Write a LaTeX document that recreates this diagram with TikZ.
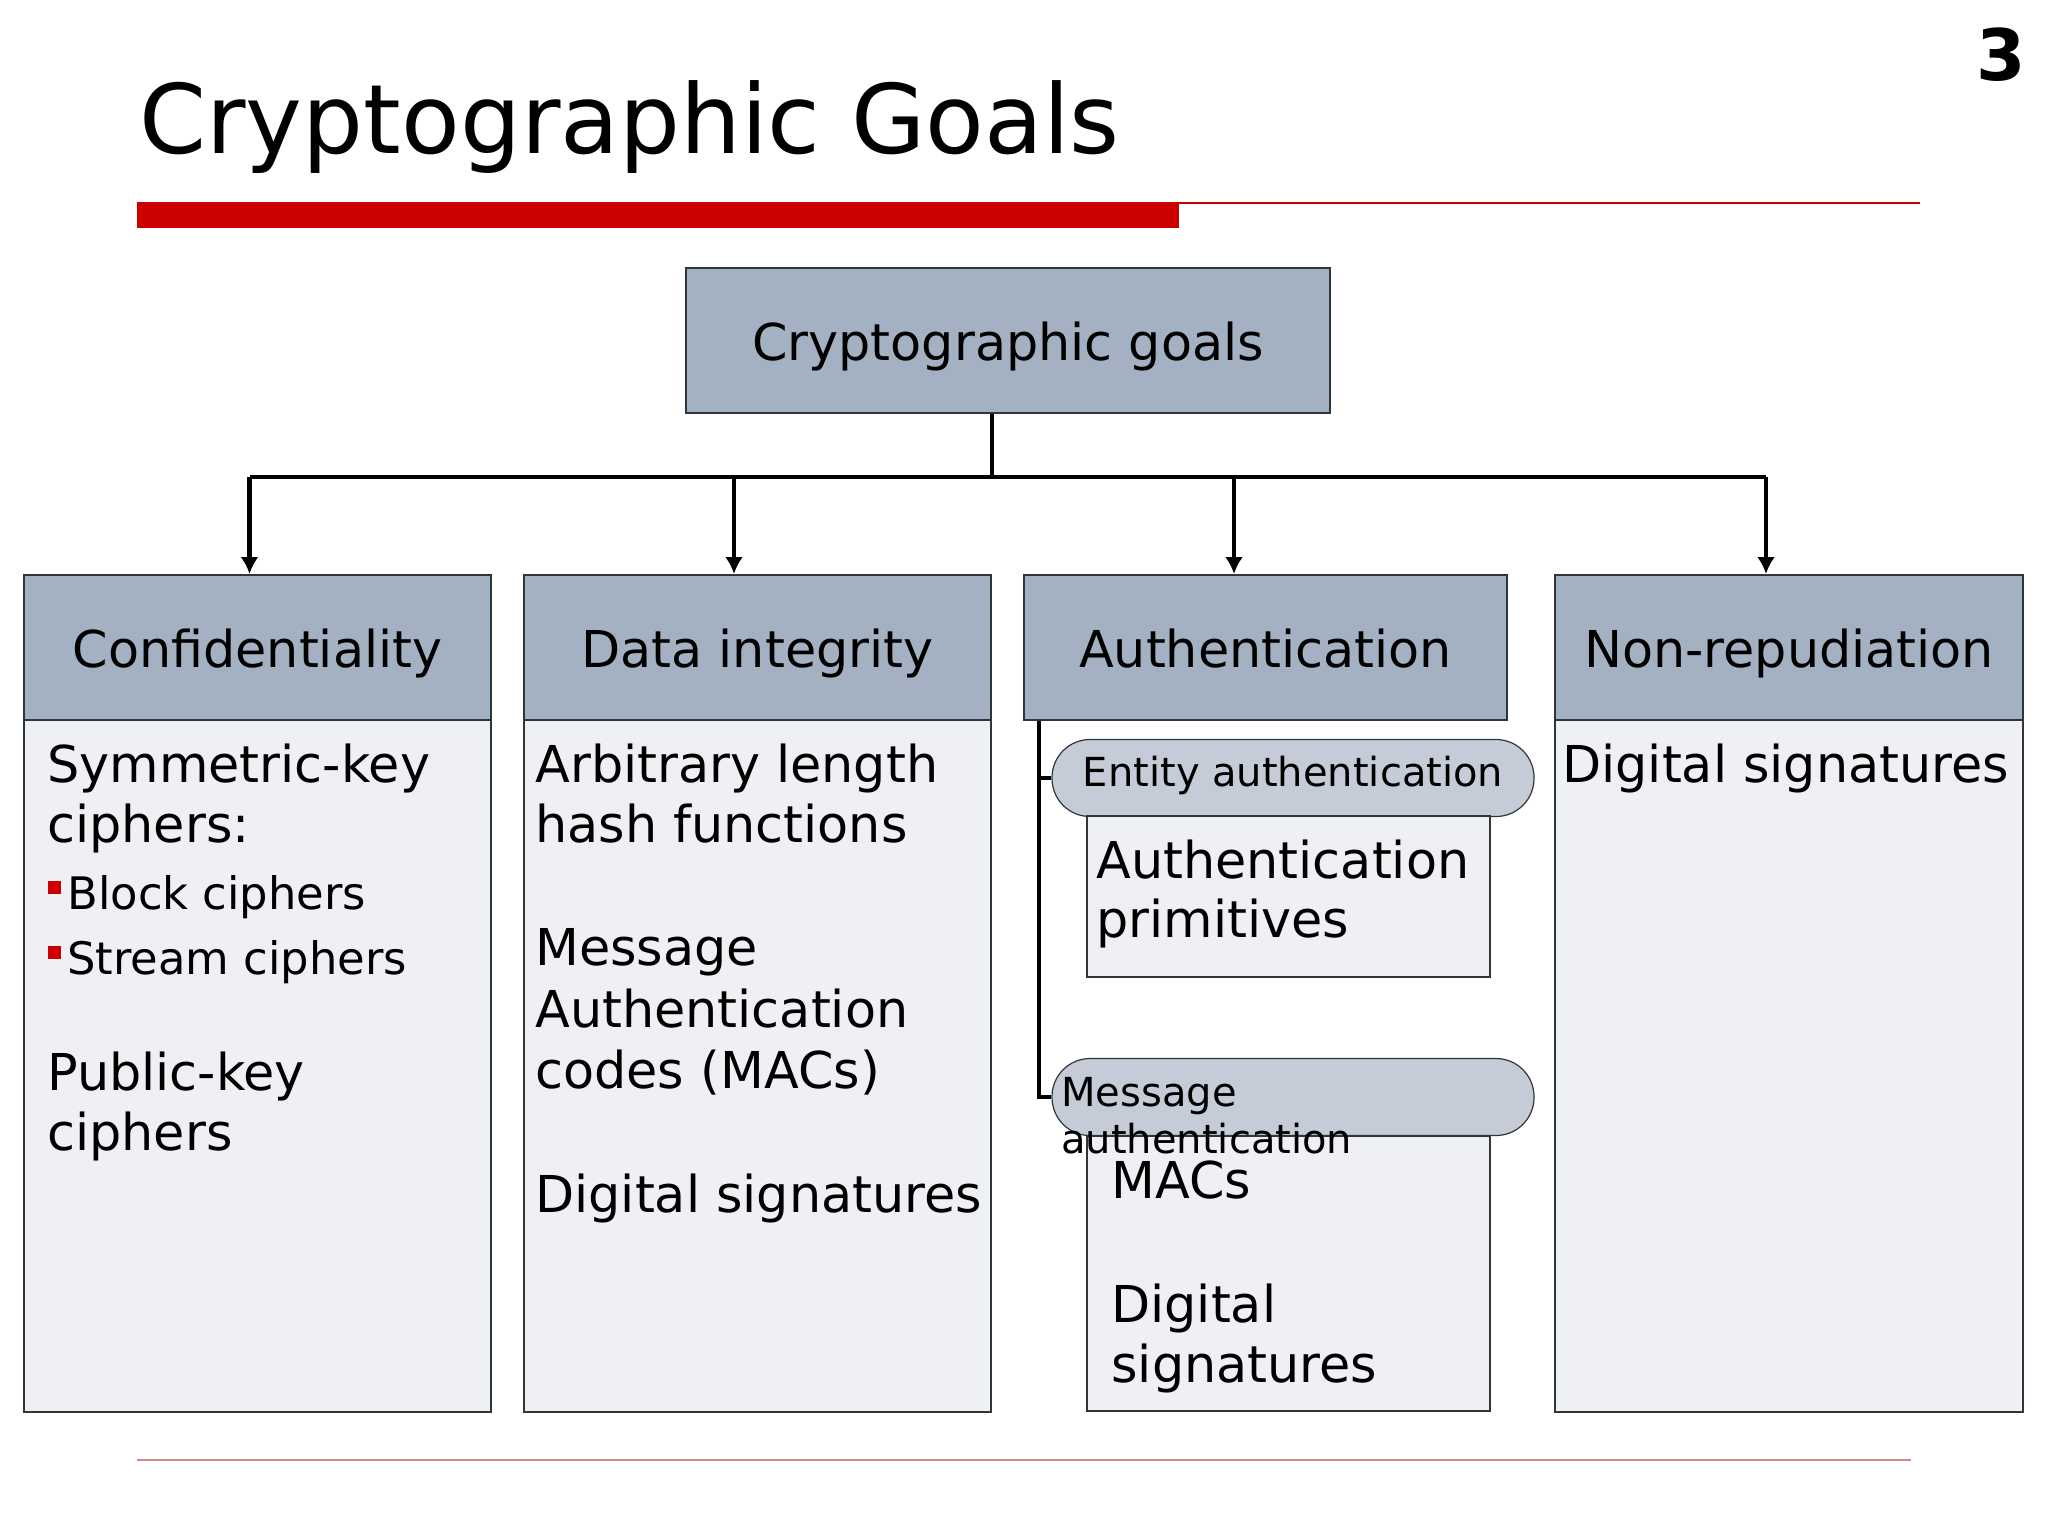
\documentclass[tikz,border=0pt]{standalone}
\usepackage{fontspec}
\setmainfont{DejaVu Sans}
\usetikzlibrary{arrows.meta}

\definecolor{hdrfill}{HTML}{A3B1C2}
\definecolor{bodyfill}{HTML}{EEF0F3}
\definecolor{pillfill}{HTML}{C5CCD8}
\definecolor{boxline}{HTML}{2E363B}
\definecolor{slidered}{HTML}{CC0000}
\definecolor{footred}{HTML}{D8868C}

\newcommand{\redsq}{\textcolor{slidered}{\rule[7.5pt]{6.5pt}{6.5pt}}\hspace{3pt}}

\tikzset{
  box/.style={draw=boxline, line width=1pt, inner sep=0pt},
  head/.style={box, fill=hdrfill, minimum height=72.5pt, text height=22pt, text depth=2pt,
    font=\fontsize{25.4pt}{30.5pt}\selectfont},
  body/.style={box, fill=bodyfill},
  pill/.style={draw=boxline, line width=0.6pt, fill=pillfill, rounded corners=19pt,
    minimum width=241pt, minimum height=38.5pt, inner sep=0pt, text height=15pt, text depth=6.4pt,
    font=\fontsize{20pt}{24pt}\selectfont},
  txt/.style={anchor=base west, inner sep=0pt, font=\fontsize{25.4pt}{30.5pt}\selectfont},
  smalltxt/.style={txt, font=\fontsize{22.4pt}{27pt}\selectfont},
  pilltxt/.style={txt, font=\fontsize{20pt}{24pt}\selectfont},
  arr/.style={line width=2.2pt, -{Latex[length=8.5pt,width=9pt]}},
  trunk/.style={line width=2.4pt},
}

\begin{document}
\begin{tikzpicture}[x=0.5pt, y=-0.5pt]
\useasboundingbox (0,0) rectangle (2048,1536);

% title and rules
\node[anchor=base west, inner sep=0pt, font=\fontsize{48pt}{56pt}\selectfont] (title) at (139,153) {Cryptographic Goals};
\node[anchor=base east, inner sep=0pt, font=\fontsize{35.5pt}{40pt}\selectfont\bfseries] (pageno) at (2026,81) {3};
\fill[slidered] (137,202) rectangle (1179,228);
\draw[slidered, line width=1pt] (137,203) -- (1920,203);
\draw[footred, line width=1pt] (137,1460) -- (1911,1460);

% top box
\node[head, minimum width=322pt] (goal) at (1008,340.5) {Cryptographic goals};

% columns
\node[body, minimum width=233.5pt, minimum height=346pt] (confb) at (257.5,1066) {};
\node[body, minimum width=233.5pt, minimum height=346pt] (integb) at (757.5,1066) {};
\node[body, minimum width=234pt, minimum height=346pt] (nonb) at (1789,1066) {};

\node[head, minimum width=233.5pt] (conf) at (257.5,647.5) {Confidentiality};
\node[head, minimum width=233.5pt] (integ) at (757.5,647.5) {Data integrity};
\node[head, minimum width=241.5pt] (auth) at (1265.5,647.5) {Authentication};
\node[head, minimum width=234pt] (non) at (1789,647.5) {Non-repudiation};

% confidentiality
\node[txt] (c1) at (47,782) {Symmetric-key};
\node[txt] (c2) at (47,842) {ciphers:};
\node[smalltxt] (c3) at (48,909) {\redsq Block ciphers};
\node[smalltxt] (c4) at (48,974) {\redsq Stream ciphers};
\node[txt] (c5) at (47,1090) {Public-key};
\node[txt] (c6) at (47,1150) {ciphers};

% data integrity
\node[txt] (d1) at (535,782) {Arbitrary length};
\node[txt] (d2) at (535,842) {hash functions};
\node[txt] (d3) at (535,965) {Message};
\node[txt] (d4) at (535,1027) {Authentication};
\node[txt] (d5) at (535,1088) {codes (MACs)};
\node[txt] (d6) at (535,1212) {Digital signatures};

% authentication
\node[pill] (entity) at (1293,778) {Entity authentication};
\node[body, minimum width=201.5pt, minimum height=80.5pt] (prim) at (1288.5,896.5) {};
\node[txt] (p1) at (1096,878) {Authentication};
\node[txt] (p2) at (1096,937) {primitives};

\node[pill] (msg) at (1293,1097) {};
\node[body, minimum width=201.5pt, minimum height=137.5pt] (macs) at (1288.5,1273.5) {};
\node[pilltxt] (m1) at (1061,1106) {Message};
\node[pilltxt] (m2) at (1061,1153) {authentication};
\node[txt] (s1) at (1111,1198) {MACs};
\node[txt] (s2) at (1111,1322) {Digital};
\node[txt] (s3) at (1111,1382) {signatures};

% non-repudiation
\node[txt] (n1) at (1562,782) {Digital signatures};

% connectors
\coordinate (bus) at (992,477);
\draw[line width=2.2pt] ([xshift=-8pt]goal.south) -- (bus);
\draw[line width=2pt] ([xshift=-4pt]conf.north |- bus) -- ([xshift=-11.5pt]non.north |- bus);
\foreach \n/\s in {conf/-4pt, integ/-11.75pt, auth/-15.75pt, non/-11.5pt}
  \draw[arr] ([xshift=\s]\n.north |- bus) -- ([xshift=\s]\n.north);

\coordinate (stem) at ([xshift=8pt]auth.south west);
\draw[trunk] (stem) |- (msg.west);
\draw[trunk] (entity.west) -- (entity.west -| stem);
\end{tikzpicture}
\end{document}
